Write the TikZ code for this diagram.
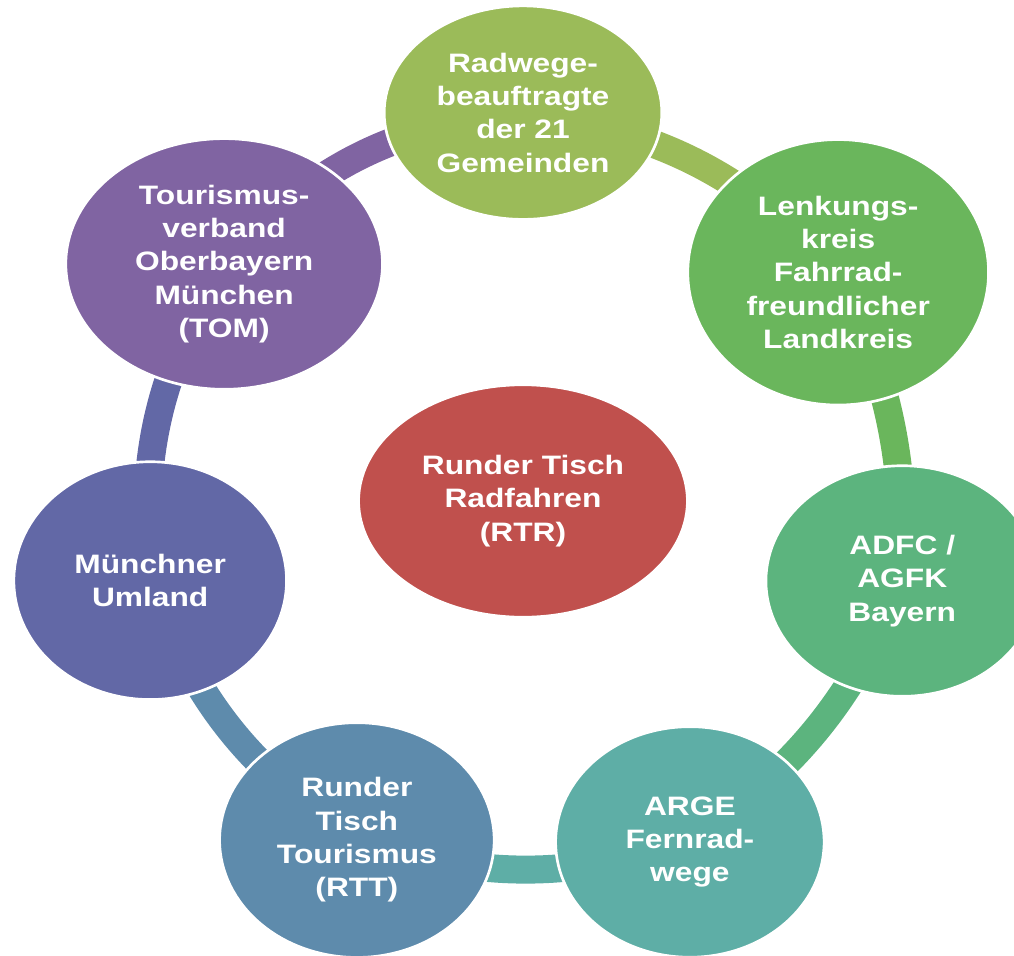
\documentclass[tikz,border=0pt]{standalone}
\usepackage{fontspec}
\newfontfamily\labelfont{Liberation Sans}[FakeStretch=1.19]
\usepackage{tikz}
\usetikzlibrary{shapes.geometric}
\definecolor{radgreen}{HTML}{9BBB59}
\definecolor{lenkgreen}{HTML}{6AB65C}
\definecolor{adfcgreen}{HTML}{5CB47E}
\definecolor{argeteal}{HTML}{5EAEA6}
\definecolor{rttblue}{HTML}{5E8BAC}
\definecolor{umlandblue}{HTML}{6268A6}
\definecolor{tompurple}{HTML}{8064A2}
\definecolor{rtrred}{HTML}{C0504D}
\pgfdeclarelayer{background}
\pgfsetlayers{background,main}
\tikzstyle{member} = [ellipse, inner sep=0pt, align=center, draw=white, line width=2pt, text=white, font=\labelfont\bfseries\fontsize{20}{25}\selectfont]
\tikzstyle{link} = [line width=21pt]

\begin{document}
\begin{tikzpicture}[node distance=10cm]
\useasboundingbox (-13.790,-11.971) rectangle (12.946,13.210);

\node (rtr) [member, fill=rtrred, minimum width=8.67cm, minimum height=6.13cm] {Runder Tisch\\Radfahren\\(RTR)};
\node (radwege) [member, fill=radgreen, minimum width=7.32cm, minimum height=5.63cm, above of=rtr, yshift=0.24cm] {Radwege-\\beauftragte\\der 21\\Gemeinden};
\node (lenkung) [member, fill=lenkgreen, minimum width=7.93cm, minimum height=7cm, right of=rtr, xshift=-1.69cm, yshift=6.03cm] {Lenkungs-\\kreis\\Fahrrad-\\freundlicher\\Landkreis};
\node (adfc) [member, fill=adfcgreen, minimum width=7.19cm, minimum height=6.08cm, right of=rtr, yshift=-2.11cm] {ADFC /\\AGFK\\Bayern};
\node (arge) [member, fill=argeteal, minimum width=7.08cm, minimum height=6.08cm, below of=rtr, xshift=4.4cm, yshift=1.01cm] {ARGE\\Fernrad-\\wege};
\node (rtt) [member, fill=rttblue, minimum width=7.24cm, minimum height=6.19cm, below of=rtr, xshift=-4.38cm, yshift=1.06cm] {Runder\\Tisch\\Tourismus\\(RTT)};
\node (umland) [member, fill=umlandblue, minimum width=7.19cm, minimum height=6.27cm, left of=rtr, xshift=0.17cm, yshift=-2.1cm] {Münchner\\Umland};
\node (tom) [member, fill=tompurple, minimum width=8.35cm, minimum height=6.61cm, left of=rtr, xshift=2.12cm, yshift=6.25cm] {Tourismus-\\verband\\Oberbayern\\München\\(TOM)};

\begin{pgfonlayer}{background}
\draw [link, draw=radgreen] (radwege.center) to[bend left=19] (lenkung.center);
\draw [link, draw=lenkgreen] (lenkung.center) to[bend left=13] (adfc.center);
\draw [link, draw=adfcgreen] (adfc.center) to[bend left=16] (arge.center);
\draw [link, draw=argeteal] (arge.center) to[bend left=17] (rtt.center);
\draw [link, draw=rttblue] (rtt.center) to[bend left=18] (umland.center);
\draw [link, draw=umlandblue] (umland.center) to[bend left=18] (tom.center);
\draw [link, draw=tompurple] (tom.center) to[bend left=21] (radwege.center);
\end{pgfonlayer}

\end{tikzpicture}
\end{document}
